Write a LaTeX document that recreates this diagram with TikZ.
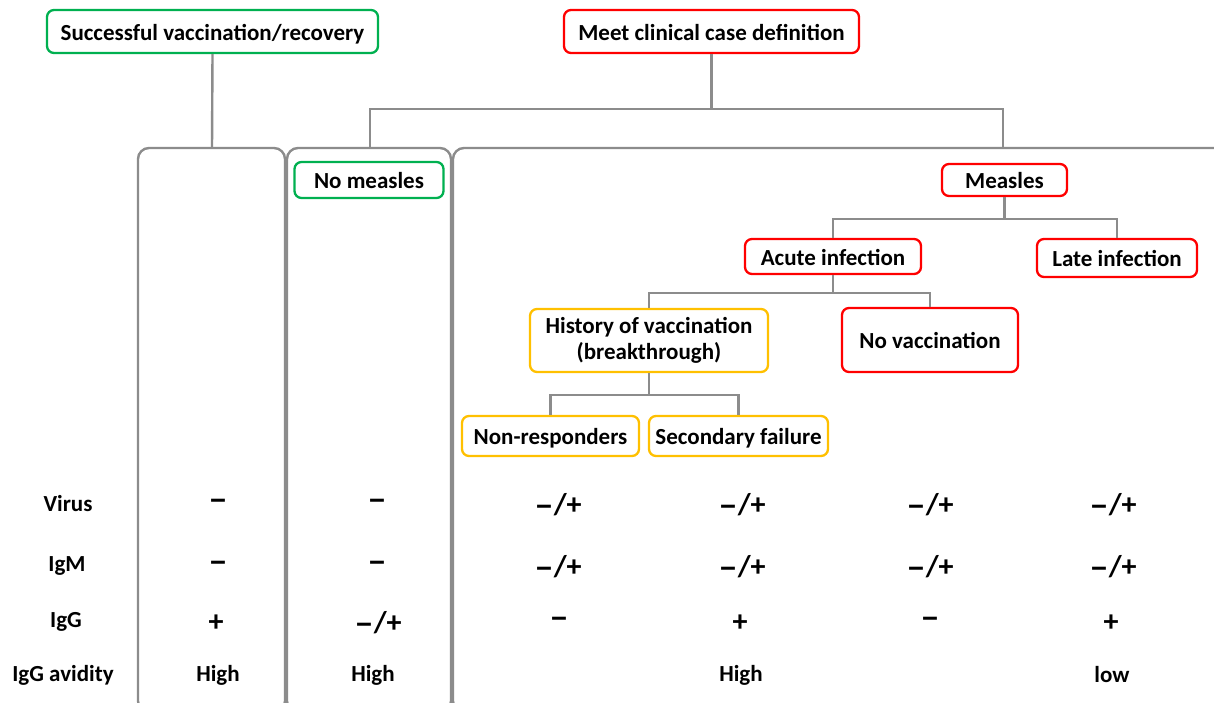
\documentclass[tikz,border=0pt]{standalone}
\usepackage{fontspec}
\setmainfont{Carlito}
\definecolor{lgray}{HTML}{8C8C8C}
\definecolor{cgreen}{HTML}{00B050}
\definecolor{cred}{HTML}{FF0000}
\definecolor{corange}{HTML}{FFC000}
\newcommand{\mn}{\scalebox{1.3}[1.15]{\raisebox{-0.04em}{–}}}
\tikzset{
  bx/.style={draw, line width=2.3pt, rounded corners=7pt, fill=white, align=center,
    font=\fontsize{23}{26}\selectfont\bfseries, inner sep=0pt},
  gbox/.style={bx, draw=cgreen},
  rbox/.style={bx, draw=cred},
  obox/.style={bx, draw=corange},
  conn/.style={draw=lgray, line width=2.4pt},
  panel/.style={draw=lgray, line width=2.4pt, rounded corners=11pt},
  rowlab/.style={font=\fontsize{23}{26}\selectfont\bfseries},
  val/.style={font=\fontsize{30}{32}\selectfont\bfseries},
  av/.style={font=\fontsize{23}{26}\selectfont\bfseries},
  lbl/.style={text height=21pt, text depth=4pt},
}
\begin{document}
\begin{tikzpicture}[x=1pt,y=-1pt]
\useasboundingbox[fill=white] (0,0) rectangle (1214,702);
% panels
\draw[panel] (138,712) -- (138,148) -- (285,148) -- (285,712) -- cycle;
\draw[panel] (287,712) -- (287,148) -- (451,148) -- (451,712) -- cycle;
\draw[panel] (453,712) -- (453,148) -- (1230,148) -- (1230,712) -- cycle;
\coordinate (p1) at (212,148);
\coordinate (p2) at (370,148);
\coordinate (p3) at (1003,148);
% top nodes
\node[gbox, lbl, minimum width=331pt, minimum height=43pt] (succ) at (212.5,31.5) {Successful vaccination/recovery};
\node[rbox, lbl, minimum width=295pt, minimum height=43pt] (meet) at (711.5,31.5) {Meet clinical case definition};
\node[gbox, lbl, minimum width=149pt, minimum height=36pt] (nom) at (369,180) {No measles};
\node[rbox, lbl, minimum width=125pt, minimum height=32pt] (mea) at (1004.5,180) {Measles};
\node[rbox, lbl, minimum width=176pt, minimum height=35pt] (acu) at (833,256.5) {Acute infection};
\node[rbox, lbl, minimum width=160pt, minimum height=38pt] (late) at (1117,258) {Late infection};
\node[obox, minimum width=238pt, minimum height=63pt] (hist) at (649,340.5) {History of vaccination\\(breakthrough)};
\node[rbox, lbl, minimum width=176pt, minimum height=64pt] (novac) at (930,340) {No vaccination};
\node[obox, lbl, minimum width=177pt, minimum height=40pt] (nonr) at (550.5,436) {Non-responders};
\node[obox, lbl, minimum width=179pt, minimum height=40pt] (secf) at (738.5,436) {Secondary failure};
% connectors
\draw[conn] (succ.south) -- (p1);
\draw[conn] (meet.south) -- ++(0,55) coordinate (mj);
\draw[conn] (p2) -- (p2 |- mj) -- (p3 |- mj) -- (p3);
\draw[conn] (mea.south) -- ++(0,22) coordinate (sj);
\draw[conn] (acu.north) -- (acu.north |- sj) -- (late.north |- sj) -- (late.north);
\draw[conn] (acu.south) -- ++(0,18) coordinate (aj);
\draw[conn] (hist.north) -- (hist.north |- aj) -- (novac.north |- aj) -- (novac.north);
\draw[conn] (hist.south) -- ++(0,22) coordinate (hj);
\draw[conn] (nonr.north) -- (nonr.north |- hj) -- (secf.north |- hj) -- (secf.north);
% table
\node[rowlab] (lv) at (68,504) {Virus};
\node[rowlab] (lm) at (67,566) {IgM};
\node[rowlab] (lg) at (66,622) {IgG};
\node[rowlab] (la) at (63,675) {IgG avidity};
% virus row
\node[val] (v1) at (218,505) {\mn};
\node[val] (v2) at (377,505) {\mn};
\node[val] (v3) at (558,505) {\mn/+};
\node[val] (v4) at (742,505) {\mn/+};
\node[val] (v5) at (930,505) {\mn/+};
\node[val] (v6) at (1113,505) {\mn/+};
% IgM row
\node[val] (m1) at (218,567) {\mn};
\node[val] (m2) at (377,567) {\mn};
\node[val] (m3) at (558,567) {\mn/+};
\node[val] (m4) at (742,567) {\mn/+};
\node[val] (m5) at (930,567) {\mn/+};
\node[val] (m6) at (1113,567) {\mn/+};
% IgG row
\node[val] (g1) at (216,623) {+};
\node[val] (g2) at (378,623) {\mn/+};
\node[val] (g3) at (559,623) {\mn};
\node[val] (g4) at (740,623) {+};
\node[val] (g5) at (930,623) {\mn};
\node[val] (g6) at (1111,623) {+};
% avidity row
\node[av] (a1) at (218,675) {High};
\node[av] (a2) at (373,675) {High};
\node[av] (a4) at (741,675) {High};
\node[av] (a6) at (1112,675) {low};
\end{tikzpicture}
\end{document}
